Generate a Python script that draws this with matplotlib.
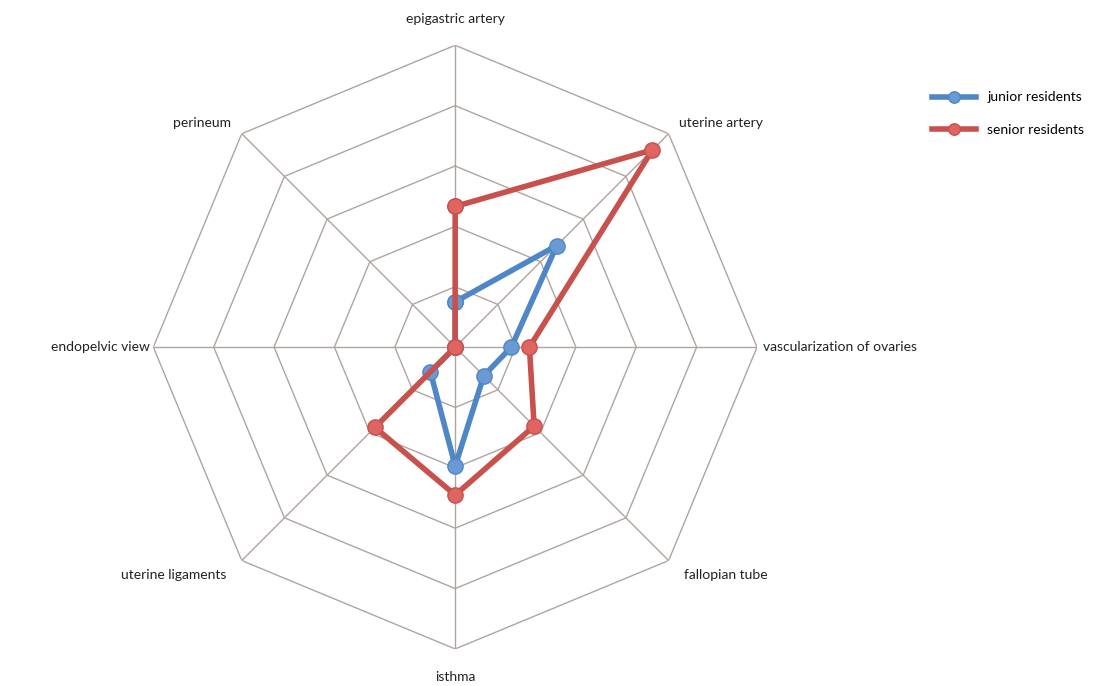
import numpy as np
import matplotlib.pyplot as plt

plt.rcParams['font.family'] = ['Lato', 'DejaVu Sans']

categories = ['epigastric artery', 'uterine artery', 'vascularization of ovaries',
              'fallopian tube', 'isthma', 'uterine ligaments', 'endopelvic view', 'perineum']
junior = [0.75, 2.38, 0.93, 0.67, 1.97, 0.58, 0, 0]
senior = [2.33, 4.62, 1.23, 1.85, 2.45, 1.88, 0, 0]
rings = [1, 2, 3, 4, 5]

n = len(categories)
theta = np.arange(n) * 2 * np.pi / n
theta_c = np.append(theta, theta[0])

fig = plt.figure(figsize=(11.17, 6.86), dpi=100)
ax = fig.add_axes([0.137, 0.054, 0.541, 0.880], projection='polar')
ax.set_theta_zero_location('N')
ax.set_theta_direction(-1)
ax.set_ylim(0, rings[-1])
ax.grid(False)
ax.spines['polar'].set_visible(False)
ax.set_xticks([])
ax.set_yticks([])

grid_col = '#b0a49f'
for r in rings:
    ax.plot(theta_c, [r] * (n + 1), color=grid_col, lw=1.0, zorder=1)
for t in theta:
    ax.plot([t, t], [0, rings[-1]], color=grid_col, lw=1.0, zorder=1)

blue = '#4f86c6'
red = '#c8504d'
ax.plot(theta_c, junior + [junior[0]], color=blue, lw=4, marker='o', ms=11,
        mfc='#6a9ad4', mec=blue, label='junior residents', zorder=3)
ax.plot(theta_c, senior + [senior[0]], color=red, lw=4, marker='o', ms=11,
        mfc='#de6561', mec=red, label='senior residents', zorder=4)

# category labels placed around the outer ring
label_pos = [
    (0, 5.43, 'center', 'center'),
    (theta[1], 5.25, 'left', 'center'),
    (theta[2], 5.1, 'left', 'center'),
    (theta[3], 5.35, 'left', 'center'),
    (theta[4], 5.47, 'center', 'center'),
    (theta[5], 5.35, 'right', 'center'),
    (theta[6], 5.05, 'right', 'center'),
    (theta[7], 5.25, 'right', 'center'),
]
for (t, r, ha, va), name in zip(label_pos, categories):
    ax.text(t, r, name, ha=ha, va=va, fontsize=10, color='#222222', clip_on=False)

fig.legend(loc='upper left', bbox_to_anchor=(0.823, 0.885), frameon=False,
           fontsize=10, handlelength=3.2, labelspacing=1.5, markerscale=0.75)

fig.savefig('out.png', dpi=100, facecolor='white')
